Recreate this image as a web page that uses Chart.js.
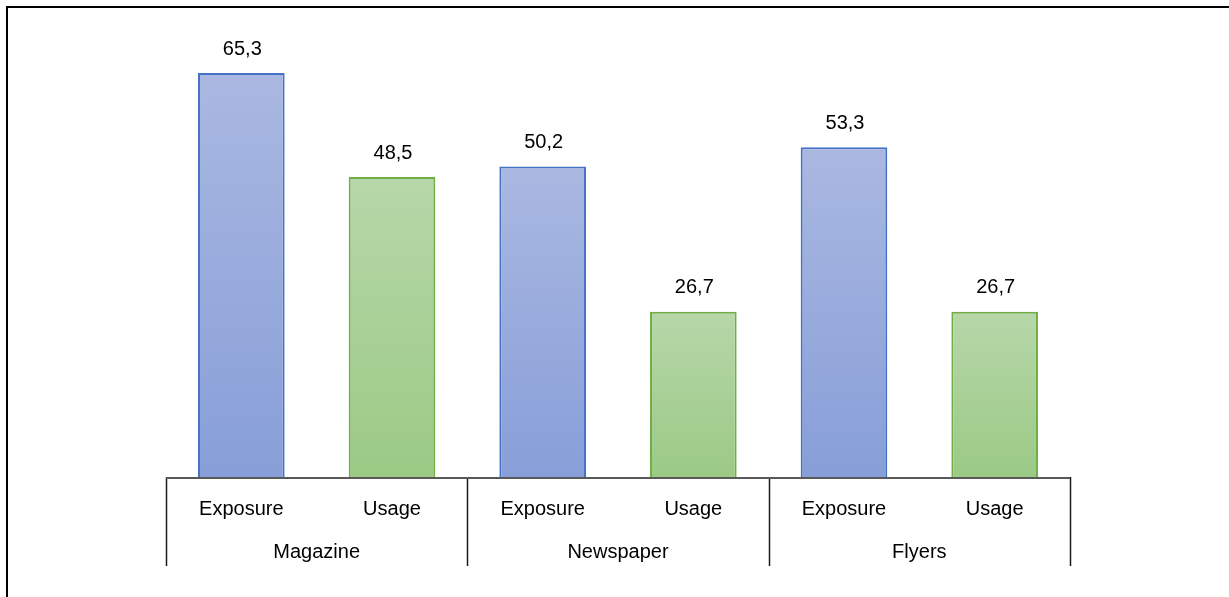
<!DOCTYPE html>
<html lang="en">
<head>
    <meta charset="UTF-8">
    <title>Exposure and Usage by Medium</title>
    <script src="https://cdn.jsdelivr.net/npm/chart.js"></script>
    <style>
        html, body {
            margin: 0;
            padding: 0;
            background: #fff;
        }

        .frame {
            position: absolute;
            left: 6px;
            top: 6px;
            right: 0;
            bottom: 0;
            border-top: 2px solid #000;
            border-left: 2px solid #000;
        }

        .chart-container {
            position: absolute;
            left: 0;
            top: 0;
            width: 1229px;
            height: 597px;
        }
    </style>
</head>
<body>
    <div class="frame"></div>
    <div class="chart-container">
        <canvas id="mediaChart"></canvas>
    </div>

    <script>
        // Data
        const measures = ['Exposure', 'Usage', 'Exposure', 'Usage', 'Exposure', 'Usage'];
        const media = ['Magazine', 'Newspaper', 'Flyers'];
        const values = [65.3, 48.5, 50.2, 26.7, 53.3, 26.7];

        const blue = { top: '#aab8e1', bottom: '#879ed8', border: '#4472c4' };
        const green = { top: '#b7d7a9', bottom: '#9bca85', border: '#70ad47' };

        const fontFamily = '"Liberation Sans", Arial, sans-serif';

        function paletteFor(index) {
            return measures[index] === 'Exposure' ? blue : green;
        }

        // Vertical gradient per bar, light at the top, darker at the base
        function barGradient(context) {
            const chart = context.chart;
            const area = chart.chartArea;
            const pal = paletteFor(context.dataIndex);
            if (!area) return pal.bottom;
            const yScale = chart.scales.y;
            const topY = yScale.getPixelForValue(values[context.dataIndex]);
            const baseY = yScale.getPixelForValue(0);
            const g = chart.ctx.createLinearGradient(0, topY, 0, baseY);
            g.addColorStop(0, pal.top);
            g.addColorStop(1, pal.bottom);
            return g;
        }

        // Value labels above bars, comma decimals
        const valueLabels = {
            id: 'valueLabels',
            afterDatasetsDraw(chart) {
                const ctx = chart.ctx;
                const meta = chart.getDatasetMeta(0);
                ctx.save();
                ctx.font = '20px ' + fontFamily;
                ctx.fillStyle = '#000';
                ctx.textAlign = 'center';
                ctx.textBaseline = 'bottom';
                meta.data.forEach((bar, i) => {
                    const text = values[i].toFixed(1).replace('.', ',');
                    ctx.fillText(text, bar.x + 1, bar.y - 14);
                });
                ctx.restore();
            }
        };

        // Baseline and group separators of the two-level category axis
        const groupLines = {
            id: 'groupLines',
            afterDraw(chart) {
                const ctx = chart.ctx;
                const x = chart.scales.x;
                const base = chart.scales.y.getPixelForValue(0);
                const bottom = base + 89;
                const step = (x.right - x.left) / media.length;
                ctx.save();
                ctx.strokeStyle = '#1a1a1a';
                ctx.lineWidth = 1.5;
                for (let i = 0; i <= media.length; i++) {
                    const px = Math.round(x.left + step * i) + 0.5;
                    ctx.beginPath();
                    ctx.moveTo(px, base);
                    ctx.lineTo(px, bottom);
                    ctx.stroke();
                }
                ctx.strokeStyle = '#595959';
                ctx.lineWidth = 2;
                ctx.beginPath();
                ctx.moveTo(x.left, base + 1);
                ctx.lineTo(x.right, base + 1);
                ctx.stroke();
                ctx.restore();
            }
        };

        const ctx = document.getElementById('mediaChart').getContext('2d');
        new Chart(ctx, {
            type: 'bar',
            data: {
                labels: measures,
                datasets: [{
                    data: values,
                    backgroundColor: barGradient,
                    borderColor: values.map((v, i) => paletteFor(i).border),
                    borderWidth: 2,
                    borderSkipped: 'bottom',
                    barPercentage: 0.575,
                    categoryPercentage: 1.0
                }]
            },
            options: {
                responsive: true,
                maintainAspectRatio: false,
                animation: false,
                layout: {
                    padding: { left: 166, right: 159, top: 44, bottom: 0 }
                },
                plugins: {
                    legend: { display: false },
                    tooltip: { enabled: false }
                },
                scales: {
                    y: {
                        display: false,
                        min: 0,
                        max: 70
                    },
                    x: {
                        position: 'bottom',
                        grid: { display: false, drawTicks: false },
                        border: { display: false },
                        ticks: {
                            color: '#000',
                            font: { family: fontFamily, size: 20 },
                            padding: 20,
                            maxRotation: 0,
                            autoSkip: false
                        },
                        afterFit(scale) { scale.height = 48; }
                    },
                    group: {
                        type: 'category',
                        position: 'bottom',
                        labels: media,
                        offset: true,
                        grid: { display: false, drawTicks: false },
                        border: { display: false },
                        ticks: {
                            color: '#000',
                            font: { family: fontFamily, size: 20 },
                            padding: 15,
                            maxRotation: 0,
                            autoSkip: false
                        },
                        afterFit(scale) { scale.height = 72; }
                    }
                }
            },
            plugins: [valueLabels, groupLines]
        });
    </script>
</body>
</html>
